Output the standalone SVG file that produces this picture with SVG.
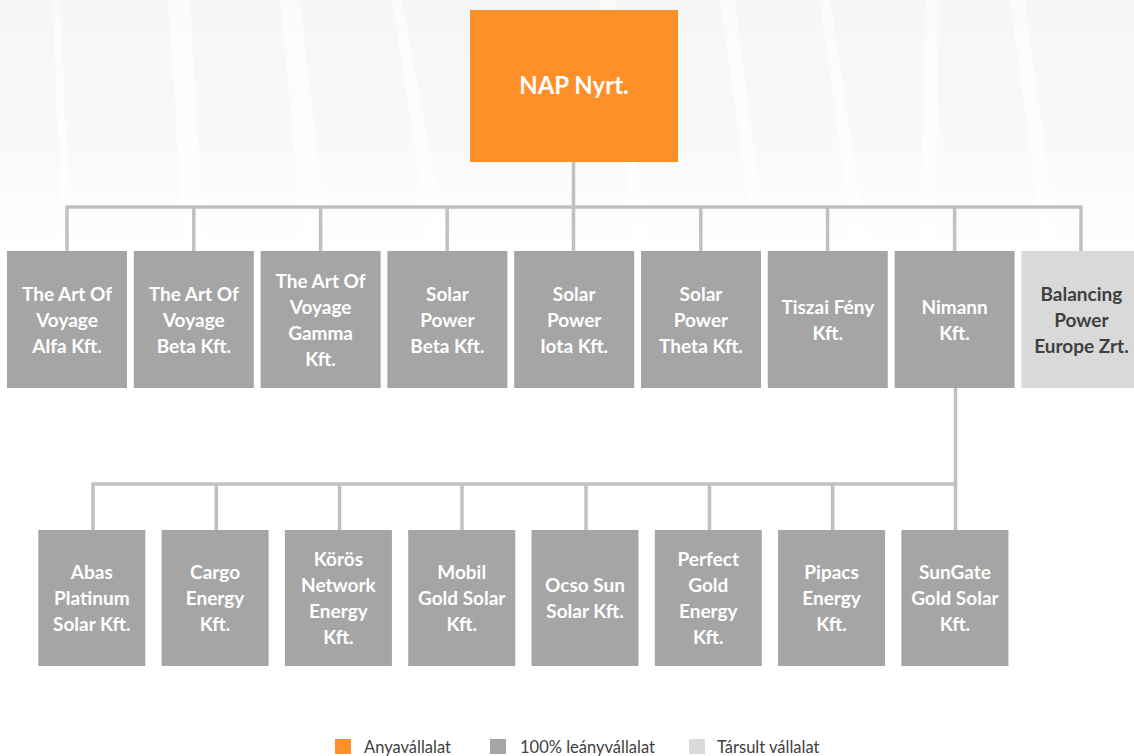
<svg xmlns="http://www.w3.org/2000/svg" width="1134" height="756" viewBox="0 0 1134 756">
<defs>
<linearGradient id="bg" x1="0" y1="0" x2="0" y2="1">
<stop offset="0" stop-color="#f6f6f6"/>
<stop offset="0.35" stop-color="#f9f9f9"/>
<stop offset="0.6" stop-color="#ffffff"/>
</linearGradient>
<style>
.t{font-family:Lato,"Liberation Sans",sans-serif;font-weight:bold;font-size:19px;fill:#ffffff;text-anchor:middle}
.d{fill:#404040}
.n1{fill:#a5a5a5}
.n0{fill:#ff8f28}
.n2{fill:#d9d9d9}
.c{stroke:#c0c0c0;stroke-width:3.5;fill:none}
.lg{font-family:Lato,"Liberation Sans",sans-serif;font-size:16.5px;fill:#404040}
.st{fill:#ffffff;opacity:0.6}
</style>
</defs>
<rect x="0" y="0" width="1134" height="756" fill="#ffffff"/>
<rect x="0" y="0" width="1134" height="420" fill="url(#bg)"/>
<g id="background-streaks">
<polygon class="st" points="52,0 60,0 72,260 64,260"/>
<polygon class="st" points="168,0 190,0 205,260 185,260"/>
<polygon class="st" points="280,0 300,0 330,260 305,260"/>
<polygon class="st" points="392,0 402,0 450,260 432,260"/>
<polygon class="st" points="600,0 615,0 650,260 640,260"/>
<polygon class="st" points="720,0 735,0 760,200 748,200"/>
<polygon class="st" points="820,0 830,0 870,260 855,260"/>
<polygon class="st" points="925,0 940,0 935,260 920,260"/>
<polygon class="st" points="1010,0 1025,0 1060,260 1045,260"/>
</g>
<g id="connectors">
<line class="c" x1="573.5" y1="162" x2="573.5" y2="207"/>
<line class="c" x1="65.5" y1="207" x2="1082.5" y2="207"/>
<line class="c" x1="67" y1="207" x2="67" y2="251"/>
<line class="c" x1="193.8" y1="207" x2="193.8" y2="251"/>
<line class="c" x1="320.6" y1="207" x2="320.6" y2="251"/>
<line class="c" x1="447.2" y1="207" x2="447.2" y2="251"/>
<line class="c" x1="573.5" y1="207" x2="573.5" y2="251"/>
<line class="c" x1="700.8" y1="207" x2="700.8" y2="251"/>
<line class="c" x1="827.6" y1="207" x2="827.6" y2="251"/>
<line class="c" x1="954.6" y1="207" x2="954.6" y2="251"/>
<line class="c" x1="1081" y1="207" x2="1081" y2="251"/>
<line class="c" x1="955.5" y1="388" x2="955.5" y2="530"/>
<line class="c" x1="91.5" y1="484" x2="957" y2="484"/>
<line class="c" x1="93" y1="484" x2="93" y2="530"/>
<line class="c" x1="216.3" y1="484" x2="216.3" y2="530"/>
<line class="c" x1="339.6" y1="484" x2="339.6" y2="530"/>
<line class="c" x1="462" y1="484" x2="462" y2="530"/>
<line class="c" x1="586" y1="484" x2="586" y2="530"/>
<line class="c" x1="709.5" y1="484" x2="709.5" y2="530"/>
<line class="c" x1="832.6" y1="484" x2="832.6" y2="530"/>
</g>
<g id="nap">
<rect class="n0" x="470" y="10" width="208" height="152"/>
<text class="t" x="574" y="94" style="font-size:24px">NAP Nyrt.</text>
</g>
<g id="alfa">
<rect class="n1" x="7" y="251" width="120" height="137"/>
<text class="t" x="67" y="301">The Art Of</text>
<text class="t" x="67" y="327">Voyage</text>
<text class="t" x="67" y="353">Alfa Kft.</text>
</g>
<g id="beta">
<rect class="n1" x="133.8" y="251" width="120" height="137"/>
<text class="t" x="193.8" y="301">The Art Of</text>
<text class="t" x="193.8" y="327">Voyage</text>
<text class="t" x="193.8" y="353">Beta Kft.</text>
</g>
<g id="gamma">
<rect class="n1" x="260.6" y="251" width="120" height="137"/>
<text class="t" x="320.6" y="288">The Art Of</text>
<text class="t" x="320.6" y="314">Voyage</text>
<text class="t" x="320.6" y="340">Gamma</text>
<text class="t" x="320.6" y="366">Kft.</text>
</g>
<g id="sp-beta">
<rect class="n1" x="387.4" y="251" width="120" height="137"/>
<text class="t" x="447.4" y="301">Solar</text>
<text class="t" x="447.4" y="327">Power</text>
<text class="t" x="447.4" y="353">Beta Kft.</text>
</g>
<g id="sp-iota">
<rect class="n1" x="514.2" y="251" width="120" height="137"/>
<text class="t" x="574.2" y="301">Solar</text>
<text class="t" x="574.2" y="327">Power</text>
<text class="t" x="574.2" y="353">Iota Kft.</text>
</g>
<g id="sp-theta">
<rect class="n1" x="641" y="251" width="120" height="137"/>
<text class="t" x="701" y="301">Solar</text>
<text class="t" x="701" y="327">Power</text>
<text class="t" x="701" y="353">Theta Kft.</text>
</g>
<g id="tiszai">
<rect class="n1" x="767.8" y="251" width="120" height="137"/>
<text class="t" x="827.8" y="314">Tiszai Fény</text>
<text class="t" x="827.8" y="340">Kft.</text>
</g>
<g id="nimann">
<rect class="n1" x="894.6" y="251" width="120" height="137"/>
<text class="t" x="954.6" y="314">Nimann</text>
<text class="t" x="954.6" y="340">Kft.</text>
</g>
<g id="balancing">
<rect class="n2" x="1021.4" y="251" width="120" height="137"/>
<text class="t d" x="1081.4" y="301">Balancing</text>
<text class="t d" x="1081.4" y="327">Power</text>
<text class="t d" x="1081.4" y="353">Europe Zrt.</text>
</g>
<g id="abas">
<rect class="n1" x="38.3" y="530" width="107" height="136"/>
<text class="t" x="91.8" y="579">Abas</text>
<text class="t" x="91.8" y="605">Platinum</text>
<text class="t" x="91.8" y="631">Solar Kft.</text>
</g>
<g id="cargo">
<rect class="n1" x="161.6" y="530" width="107" height="136"/>
<text class="t" x="215.1" y="579">Cargo</text>
<text class="t" x="215.1" y="605">Energy</text>
<text class="t" x="215.1" y="631">Kft.</text>
</g>
<g id="koros">
<rect class="n1" x="284.9" y="530" width="107" height="136"/>
<text class="t" x="338.4" y="566">Körös</text>
<text class="t" x="338.4" y="592">Network</text>
<text class="t" x="338.4" y="618">Energy</text>
<text class="t" x="338.4" y="644">Kft.</text>
</g>
<g id="mobil">
<rect class="n1" x="408.2" y="530" width="107" height="136"/>
<text class="t" x="461.7" y="579">Mobil</text>
<text class="t" x="461.7" y="605">Gold Solar</text>
<text class="t" x="461.7" y="631">Kft.</text>
</g>
<g id="ocso">
<rect class="n1" x="531.5" y="530" width="107" height="136"/>
<text class="t" x="585" y="592">Ocso Sun</text>
<text class="t" x="585" y="618">Solar Kft.</text>
</g>
<g id="perfect">
<rect class="n1" x="654.8" y="530" width="107" height="136"/>
<text class="t" x="708.3" y="566">Perfect</text>
<text class="t" x="708.3" y="592">Gold</text>
<text class="t" x="708.3" y="618">Energy</text>
<text class="t" x="708.3" y="644">Kft.</text>
</g>
<g id="pipacs">
<rect class="n1" x="778.1" y="530" width="107" height="136"/>
<text class="t" x="831.6" y="579">Pipacs</text>
<text class="t" x="831.6" y="605">Energy</text>
<text class="t" x="831.6" y="631">Kft.</text>
</g>
<g id="sungate">
<rect class="n1" x="901.4" y="530" width="107" height="136"/>
<text class="t" x="954.9" y="579">SunGate</text>
<text class="t" x="954.9" y="605">Gold Solar</text>
<text class="t" x="954.9" y="631">Kft.</text>
</g>
<g id="legend">
<rect class="n0" x="335" y="739" width="16" height="15"/>
<text class="lg" x="364" y="753">Anyavállalat</text>
<rect class="n1" x="490" y="739" width="16" height="15"/>
<text class="lg" x="520" y="753">100% leányvállalat</text>
<rect class="n2" x="689" y="739" width="16" height="15"/>
<text class="lg" x="717" y="753">Társult vállalat</text>
</g>
</svg>
